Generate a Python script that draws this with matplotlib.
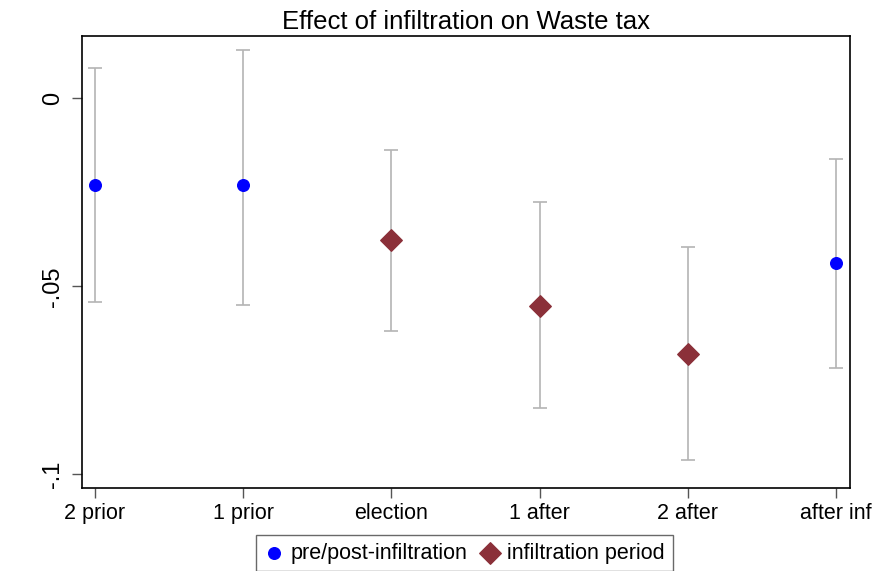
import matplotlib.pyplot as plt

plt.rcParams['font.family'] = ['Liberation Sans', 'DejaVu Sans']

# Event-time labels and coefficient estimates with confidence bounds
labels = ['2 prior', '1 prior', 'election', '1 after', '2 after', 'after inf']
coef = [-0.0231, -0.0231, -0.0378, -0.0552, -0.0679, -0.0439]
ci_low = [-0.0541, -0.0551, -0.0618, -0.0824, -0.0962, -0.0717]
ci_high = [0.0080, 0.0127, -0.0137, -0.0277, -0.0395, -0.0162]
infiltration = [False, False, True, True, True, False]

fig = plt.figure(figsize=(8.77, 5.71), dpi=100)
ax = fig.add_axes([82 / 877, 1 - 488 / 571, 768 / 877, 452 / 571])

x = list(range(len(labels)))
err_low = [c - l for c, l in zip(coef, ci_low)]
err_high = [h - c for c, h in zip(coef, ci_high)]
ax.errorbar(x, coef, yerr=[err_low, err_high], fmt='none', ecolor='#b4b4b4',
            elinewidth=1.2, capsize=5, capthick=1.2, zorder=1)

pre_x = [i for i in x if not infiltration[i]]
pre_y = [coef[i] for i in pre_x]
inf_x = [i for i in x if infiltration[i]]
inf_y = [coef[i] for i in inf_x]
ax.scatter(pre_x, pre_y, marker='o', s=70, color='#0000ff', zorder=3,
           label='pre/post-infiltration')
ax.scatter(inf_x, inf_y, marker='D', s=120, color='#8b3039', zorder=3,
           label='infiltration period')

ax.set_xlim(-0.088, 5.094)
ax.set_ylim(-0.1036, 0.0165)
ax.set_xticks(x)
ax.set_xticklabels(labels, fontsize=15.5)
ax.set_yticks([0, -0.05, -0.1])
ax.set_yticklabels(['0', '-.05', '-.1'], fontsize=17, rotation=90, va='center')
ax.tick_params(axis='both', length=7, width=1, color='#555555', direction='out')
ax.tick_params(axis='y', pad=6)
ax.tick_params(axis='x', pad=4)
for sp in ax.spines.values():
    sp.set_linewidth(1.2)

ax.set_title('Effect of infiltration on Waste tax', fontsize=18.5, pad=5)

fig.legend(loc='upper center', bbox_to_anchor=(464.5 / 877, 1 - 535 / 571), ncol=2,
           fontsize=15.5, frameon=True, fancybox=False, edgecolor='#444444',
           handletextpad=0.35, columnspacing=0.6, borderpad=0.35,
           borderaxespad=0, handlelength=0.9, markerscale=1.0)

fig.savefig('out.png', dpi=100)
